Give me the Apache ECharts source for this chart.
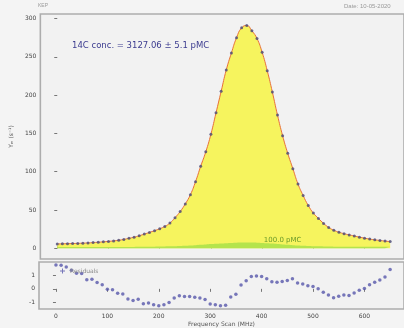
<!DOCTYPE html>
<html>
<head>
<meta charset="utf-8">
<script src="https://cdn.jsdelivr.net/npm/echarts@6/dist/echarts.min.js"></script>
<style>
	html, body { margin: 0; padding: 0; background: #f4f4f4; overflow: hidden; }
	#main { width: 404px; height: 328px; }
</style>
</head>
<body>
<div id="main"></div>
<script>
/*数据*/
var freqs = [0, 10, 20, 30, 40, 50, 60, 70, 80, 90,
	100, 110, 120, 130, 140, 150, 160, 170, 180, 190,
	200, 210, 220, 230, 240, 250, 260, 270, 280, 290,
	300, 310, 320, 330, 340, 350, 360, 370, 380, 390,
	400, 410, 420, 430, 440, 450, 460, 470, 480, 490,
	500, 510, 520, 530, 540, 550, 560, 570, 580, 590,
	600, 610, 620, 630, 640, 650];
var yieldValues = [5.6, 5.8, 6, 6.2, 6.4, 6.7, 7, 7.4, 7.9, 8.4,
	9, 9.6, 10.5, 11.6, 13, 14.5, 16.3, 18.5, 20.7, 23,
	25.5, 28.5, 33, 40, 48, 58, 70, 87, 107, 126,
	149, 177, 205, 233, 255, 275, 288, 291, 284, 274,
	256, 232, 204, 174, 147, 124, 104, 84, 69, 56,
	46, 39, 32.5, 27.2, 23.5, 21, 19, 17.5, 16, 14.5,
	13.2, 12, 11, 10.2, 9.4, 8.7];
var refValues = [1.8, 1.8, 1.8, 1.8, 1.8, 1.8, 1.8, 1.8, 1.8, 1.8,
	1.8, 1.8, 1.8, 1.8, 1.8, 1.8, 1.9, 1.9, 2, 2.1,
	2.2, 2.3, 2.5, 2.7, 3, 3.3, 3.7, 4.1, 4.6, 5,
	5.5, 5.9, 6.3, 6.7, 7, 7.3, 7.5, 7.6, 7.5, 7.3,
	7, 6.6, 6.1, 5.6, 5.1, 4.6, 4.1, 3.7, 3.3, 3,
	2.7, 2.5, 2.3, 2.2, 2.1, 2, 2, 2, 2, 2,
	2, 2, 2, 2, 2, 2];
var residuals = [1.78, 1.75, 1.62, 1.38, 1.16, 1.14, 0.68, 0.72, 0.47, 0.3,
	-0.02, -0.07, -0.32, -0.38, -0.76, -0.86, -0.77, -1.11, -1.06, -1.19,
	-1.26, -1.19, -1.02, -0.69, -0.52, -0.57, -0.57, -0.62, -0.69, -0.8,
	-1.12, -1.18, -1.26, -1.23, -0.6, -0.4, 0.28, 0.6, 0.92, 0.96,
	0.92, 0.75, 0.52, 0.49, 0.55, 0.62, 0.75, 0.44, 0.36, 0.24,
	0.17, 0, -0.25, -0.45, -0.66, -0.55, -0.45, -0.5, -0.3, -0.1,
	0.03, 0.3, 0.5, 0.66, 0.88, 1.45];
var xTicks = [0, 100, 200, 300, 400, 500, 600];
var yTicks = [0, 50, 100, 150, 200, 250, 300];
var resTicks = [-1, 0, 1];
var concText = '14C conc. = 3127.06 ± 5.1 pMC';
var refLabel = '100.0 pMC';
var refLabelPos = [440, 11];

function pairs(xs, ys) {
	var out = [];
	for(var i = 0; i < xs.length; i++) {
		out.push([xs[i], ys[i]]);
	}
	return out;
}

var option = {
	backgroundColor: '#f4f4f4',
	animation: false,
	textStyle: { fontFamily: 'DejaVu Sans' },
	graphic: [{
		type: 'text', left: 38, top: 3,
		style: { text: 'KEP', fontSize: 5, fill: '#999' }
	}, {
		type: 'text', left: 344, top: 3,
		style: { text: 'Date: 10-05-2020', fontSize: 6, fill: '#999' }
	}, {
		type: 'text', left: 72, top: 41,
		style: { text: concText, fontSize: 8.5, fill: '#3b3b8f', fontFamily: 'DejaVu Sans' }
	}],
	legend: {
		data: ['Residuals'],
		left: 55, top: 263,
		itemWidth: 5, itemHeight: 5, itemGap: 2,
		icon: 'path://M2,0H3V2H5V3H3V5H2V3H0V2H2Z',
		textStyle: { fontSize: 6, color: '#888' }
	},
	grid: [{
		left: 39, right: 0, top: 14, height: 245,
		show: true, backgroundColor: '#f2f2f2', borderColor: '#adadad', borderWidth: 1.6
	}, {
		left: 39, right: 0, top: 262, height: 47,
		show: true, backgroundColor: '#f2f2f2', borderColor: '#adadad', borderWidth: 1.6
	}],
	xAxis: [{
		type: 'value', gridIndex: 0, min: -33, max: 677,
		axisLine: { show: false },
		axisTick: { show: true, length: 2, inside: true, customValues: xTicks, lineStyle: { color: '#555' } },
		axisLabel: { show: false },
		splitLine: { show: false }
	}, {
		type: 'value', gridIndex: 1, min: -33, max: 677,
		axisLine: { show: false },
		axisTick: { show: true, length: 3, customValues: xTicks, lineStyle: { color: '#777' } },
		axisLabel: { customValues: xTicks, fontSize: 6, color: '#444', margin: 4 },
		splitLine: { show: false },
		name: 'Frequency Scan (MHz)', nameLocation: 'middle', nameGap: 12,
		nameTextStyle: { fontSize: 6, color: '#555' }
	}],
	yAxis: [{
		type: 'value', gridIndex: 0, min: -14, max: 306,
		axisLine: { show: false },
		axisTick: { show: true, length: 3, customValues: yTicks, lineStyle: { color: '#777' } },
		axisLabel: { customValues: yTicks, fontSize: 6, color: '#444', margin: 4 },
		splitLine: { show: false },
		name: 'Yₘ (s⁻¹)', nameLocation: 'middle', nameGap: 22,
		nameTextStyle: { fontSize: 6, color: '#555' }
	}, {
		type: 'value', gridIndex: 1, min: -1.5, max: 2,
		axisLine: { show: false },
		axisTick: { show: true, length: 3, customValues: resTicks, lineStyle: { color: '#777' } },
		axisLabel: { customValues: resTicks, fontSize: 6, color: '#444', margin: 4 },
		splitLine: { show: false }
	}],
	series: [{
		name: 'Fit',
		type: 'line',
		xAxisIndex: 0, yAxisIndex: 0,
		data: pairs(freqs, yieldValues),
		smooth: true,
		symbol: 'none',
		lineStyle: { color: '#e8703a', width: 1 },
		areaStyle: { color: '#f6f45e', opacity: 1 },
		z: 1
	}, {
		name: 'Reference',
		type: 'line',
		xAxisIndex: 0, yAxisIndex: 0,
		data: pairs(freqs, refValues),
		smooth: true,
		symbol: 'none',
		lineStyle: { width: 0 },
		areaStyle: { color: '#b5e44c', opacity: 1 },
		markPoint: {
			symbol: 'rect', symbolSize: 0,
			label: { show: true, position: 'inside', formatter: refLabel, fontSize: 7, color: '#6a9a2a' },
			data: [{ coord: refLabelPos }]
		},
		z: 2
	}, {
		name: 'Data',
		type: 'scatter',
		xAxisIndex: 0, yAxisIndex: 0,
		data: pairs(freqs, yieldValues),
		symbolSize: 3,
		itemStyle: { color: '#4a4a78' },
		z: 3
	}, {
		name: 'Residuals',
		type: 'scatter',
		xAxisIndex: 1, yAxisIndex: 1,
		data: pairs(freqs, residuals),
		symbolSize: 3.5,
		itemStyle: { color: '#5656aa' },
		z: 3
	}]
};

echarts.init(document.getElementById('main')).setOption(option);
</script>
</body>
</html>
